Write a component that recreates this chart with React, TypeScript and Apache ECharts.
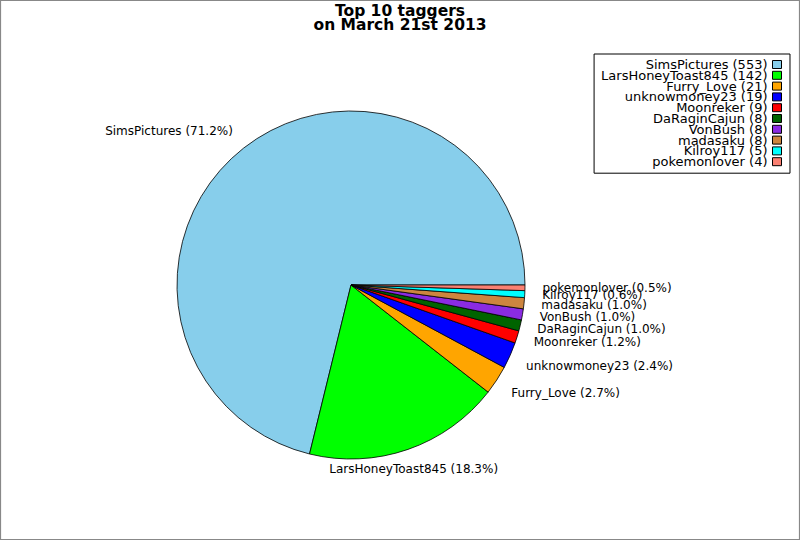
import React, { useEffect, useRef } from "react";
import * as echarts from "echarts";

const names = [
  "SimsPictures",
  "LarsHoneyToast845",
  "Furry_Love",
  "unknowmoney23",
  "Moonreker",
  "DaRaginCajun",
  "VonBush",
  "madasaku",
  "Kilroy117",
  "pokemonlover",
];
const counts = [553, 142, 21, 19, 9, 8, 8, 8, 5, 4];
const colors = [
  "#87CEEB",
  "#00FF00",
  "#FFA500",
  "#0000FF",
  "#FF0000",
  "#006400",
  "#8A2BE2",
  "#CD853F",
  "#00FFFF",
  "#FA8072",
];
const titleText = "Top 10 taggers\non March 21st 2013";

const FONT = "DejaVu Sans";

export default function App() {
  const ref = useRef<HTMLDivElement>(null);
  useEffect(() => {
    if (!ref.current) return;
    const chart = echarts.init(ref.current, undefined, { renderer: "svg" });
    const total = counts.reduce((a, b) => a + b, 0);
    // mid-angle sine of each slice (counter-clockwise from 3 o'clock)
    const midSin: number[] = [];
    let acc = 0;
    counts.forEach((c) => {
      const mid = ((acc + c / 2) / total) * Math.PI * 2;
      midSin.push(Math.sin(mid));
      acc += c;
    });
    const data = names.map((n, i) => ({
      name: n,
      value: counts[i],
      itemStyle: { color: colors[i] },
    }));
    chart.setOption({
      animation: false,
      backgroundColor: "#ffffff",
      title: {
        text: titleText,
        left: "center",
        top: -1.5,
        textStyle: {
          fontFamily: FONT,
          fontWeight: "bold",
          fontSize: 15.5,
          lineHeight: 14.5,
          color: "#000",
        },
      },
      legend: {
        orient: "vertical",
        right: 10,
        top: 54,
        align: "right",
        icon: "rect",
        itemWidth: 9,
        itemHeight: 8,
        itemGap: -2.2,
        padding: [4, 8, 5, 7],
        borderColor: "#000",
        borderWidth: 1,
        backgroundColor: "#fff",
        selectedMode: false,
        itemStyle: { borderColor: "#000", borderWidth: 1 },
        textStyle: {
          fontFamily: FONT,
          fontSize: 13,
          lineHeight: 11,
          color: "#000",
        },
        formatter: (name: string) => {
          const i = names.indexOf(name);
          return `${name} (${counts[i]})`;
        },
        data: names,
      },
      graphic: [
        {
          type: "rect",
          shape: { x: 0.5, y: 0.5, width: 799, height: 539 },
          style: { fill: "none", stroke: "#888", lineWidth: 1.2 },
          silent: true,
        },
      ],
      series: [
        {
          type: "pie",
          center: [351, 285],
          radius: 174,
          startAngle: 0,
          clockwise: false,
          avoidLabelOverlap: false,
          stillShowZeroSum: true,
          itemStyle: { borderColor: "#000", borderWidth: 0.8 },
          emphasis: { disabled: true },
          label: {
            show: true,
            position: "outside",
            fontFamily: FONT,
            fontSize: 12,
            color: "#000",
            distanceToLabelLine: 0,
            formatter: (p: any) =>
              `${p.name} (${((p.value / total) * 100).toFixed(1)}%)`,
          },
          labelLine: { show: false, length: 17.4, length2: 0 },
          labelLayout: (params: any) => {
            const i = params.dataIndex;
            const s = midSin[i];
            const out: any = {};
            if (Math.abs(s) > 0.35) out.dy = s > 0 ? -3.5 : 3.5;
            if (i === 1) out.align = "center";
            return out;
          },
          data,
        },
      ],
    });
    return () => chart.dispose();
  }, []);
  return (
    <div
      ref={ref}
      style={{ position: "fixed", left: 0, top: 0, width: 800, height: 540 }}
    />
  );
}
